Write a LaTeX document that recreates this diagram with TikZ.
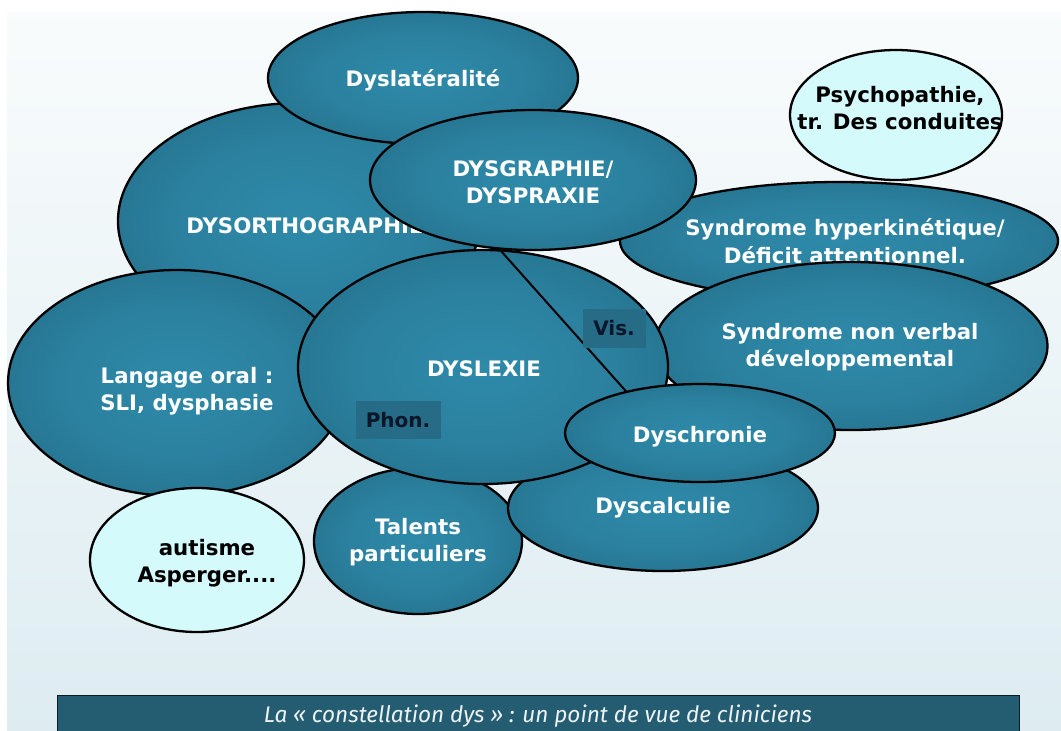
\documentclass[tikz,border=0pt]{standalone}
\usepackage{xcolor}
\usepackage{fontspec}
\setsansfont{DejaVu Sans}
\newfontfamily\capfont{Fira Sans}
\usepackage{tikz}
\usetikzlibrary{shapes.geometric}

\definecolor{blobin}{HTML}{2E8AA9}
\definecolor{blobout}{HTML}{1B5770}
\definecolor{palefill}{HTML}{D5FAFC}
\definecolor{tagfill}{HTML}{266C86}
\definecolor{tagtext}{HTML}{0A1629}
\definecolor{barfill}{HTML}{245D71}
\pgfdeclareradialshading{blobshade}{\pgfpoint{0bp}{0bp}}{color(0bp)=(blobin); color(18bp)=(blobin!80!blobout); color(50bp)=(blobout)}

\begin{document}
\begin{tikzpicture}[
  x=1pt, y=-1pt,
  blob/.style={ellipse, draw=black, line width=2.3pt, shade, shading=blobshade, inner sep=0pt},
  paleblob/.style={ellipse, draw=black, line width=2.3pt, fill=palefill, inner sep=0pt},
  lbl/.style={text=white, align=center, inner sep=0pt, font=\sffamily\bfseries\fontsize{21.3}{27.5}\selectfont},
  darklbl/.style={lbl, text=black},
  tag/.style={fill=tagfill, text=tagtext, inner sep=0pt, font=\sffamily\bfseries\fontsize{20}{22}\selectfont},
  bar/.style={fill=barfill, draw=black!70!barfill, line width=0.8pt, text=white!92!barfill, inner sep=0pt,
    font=\capfont\itshape\fontsize{22.6}{24}\selectfont}
]
\useasboundingbox (0,0) rectangle (1061,731);
\clip (0,0) rectangle (1061,731);
\fill[white] (0,0) rectangle (1061,731);
\shade[top color=white!97!blobin, middle color=white!94!blobin, bottom color=white!84!blobin] (7,12) rectangle (1061,731);

% back row
\node[blob, minimum width=362pt, minimum height=236pt] (dysortho) at (299,221) {};
\node[lbl] (dysortho-t) at (305,226) {DYSORTHOGRAPHIE};
\node[blob, minimum width=310pt, minimum height=132pt] (dyslat) at (423,78) {};
\node[lbl] (dyslat-t) at (423,80) {Dyslatéralité};
\node[blob, minimum width=438pt, minimum height=118pt] (hyper) at (839,241) {};
\node[lbl] (hyper-t) at (845,241) {Syndrome hyperkinétique/\\Déficit attentionnel.};
\node[blob, minimum width=326pt, minimum height=140pt] (dysgraph) at (533,180) {};
\node[lbl] (dysgraph-t) at (533,182) {DYSGRAPHIE/\\DYSPRAXIE};
\node[blob, minimum width=338pt, minimum height=226pt] (oral) at (177,383) {};
\node[lbl] (oral-t) at (187,391) {Langage oral :\\SLI, dysphasie};
\node[blob, minimum width=393pt, minimum height=168pt] (nonverbal) at (851,346) {};
\node[lbl] (nonverbal-t) at (850,347) {Syndrome non verbal\\développemental};
\node[blob, minimum width=208pt, minimum height=146pt] (talents) at (418,541) {};
\node[lbl] (talents-t) at (418,542) {Talents\\particuliers};
\node[blob, minimum width=310pt, minimum height=126pt] (dyscalc) at (663,508) {};
\node[lbl] (dyscalc-t) at (663,508) {Dyscalculie};

% dyslexie and its two sides
\node[blob, minimum width=370pt, minimum height=234pt] (dyslexie) at (483,367) {};
\node[lbl] (dyslexie-t) at (484,369) {DYSLEXIE};
\coordinate (vis-end) at (632,398);
\draw[line width=2pt] (dyslexie.82) -- (vis-end);
\node[tag, minimum width=63pt, minimum height=39pt] (vis) at (614,328) {Vis.};
\node[tag, minimum width=85pt, minimum height=38pt] (phon) at (398,420) {Phon.};

% front row
\node[paleblob, minimum width=214pt, minimum height=144pt] (autisme) at (197,560) {};
\node[darklbl] (autisme-t) at (207,563) {autisme\\Asperger....};
\node[paleblob, minimum width=212pt, minimum height=130pt] (psycho) at (896,115) {};
\node[darklbl] (psycho-t) at (900,108) {Psychopathie,\\tr. Des conduites};
\node[blob, minimum width=270pt, minimum height=98pt] (dyschron) at (700,433) {};
\node[lbl] (dyschron-t) at (700,437) {Dyschronie};

\node[bar, minimum width=962pt, minimum height=42pt] (caption) at (538,716) {La « constellation dys » : un point de vue de cliniciens};
\end{tikzpicture}
\end{document}
